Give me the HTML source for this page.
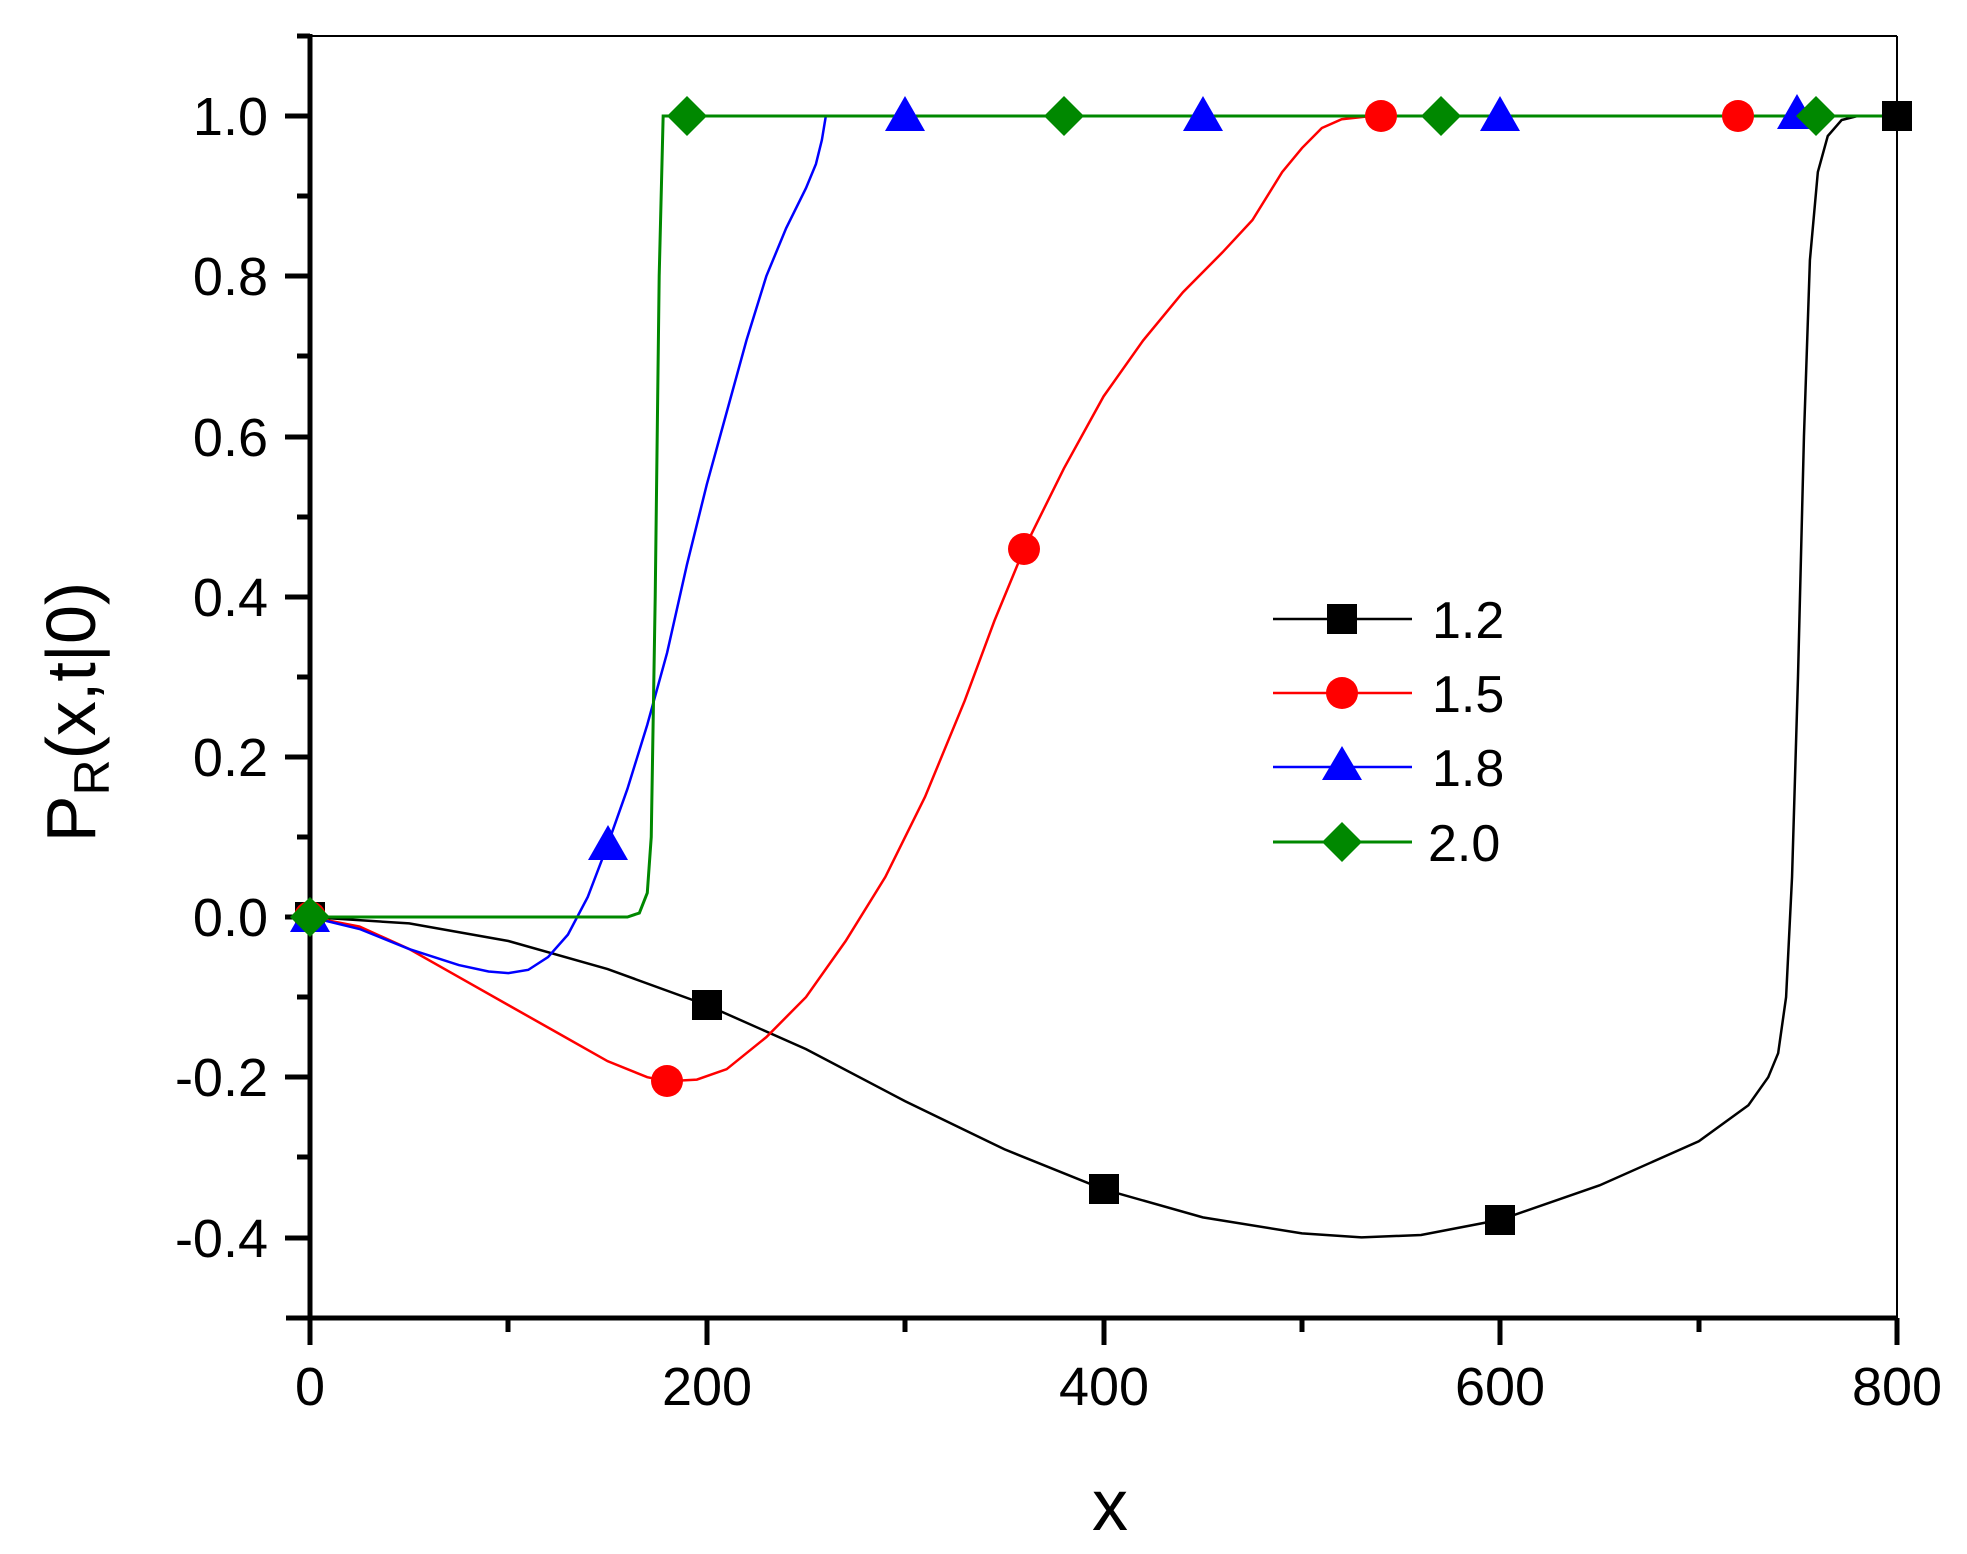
<!DOCTYPE html>
<html><head><meta charset="utf-8"><style>
html,body{margin:0;padding:0;background:#fff;}
svg{display:block;}
text{font-family:"Liberation Sans",sans-serif;}
</style></head><body>
<svg width="1967" height="1554" viewBox="0 0 1967 1554" xmlns="http://www.w3.org/2000/svg">
<rect width="1967" height="1554" fill="#fff"/>
<!-- frame -->
<line x1="310" y1="36" x2="1897" y2="36" stroke="#000" stroke-width="2"/>
<line x1="1897" y1="36" x2="1897" y2="1318" stroke="#000" stroke-width="2"/>
<line x1="310" y1="34" x2="310" y2="1345" stroke="#000" stroke-width="5"/>
<line x1="286" y1="1318" x2="1897" y2="1318" stroke="#000" stroke-width="5"/>
<!-- y ticks -->
<g stroke="#000" stroke-width="5">
<line x1="285" y1="116" x2="310" y2="116"/><line x1="285" y1="276" x2="310" y2="276"/>
<line x1="285" y1="437" x2="310" y2="437"/><line x1="285" y1="597" x2="310" y2="597"/>
<line x1="285" y1="757" x2="310" y2="757"/><line x1="285" y1="917" x2="310" y2="917"/>
<line x1="285" y1="1077" x2="310" y2="1077"/><line x1="285" y1="1238" x2="310" y2="1238"/>
<line x1="297" y1="36" x2="310" y2="36"/><line x1="297" y1="196" x2="310" y2="196"/>
<line x1="297" y1="356" x2="310" y2="356"/><line x1="297" y1="517" x2="310" y2="517"/>
<line x1="297" y1="677" x2="310" y2="677"/><line x1="297" y1="837" x2="310" y2="837"/>
<line x1="297" y1="997" x2="310" y2="997"/><line x1="297" y1="1157" x2="310" y2="1157"/>
<!-- x ticks -->
<line x1="707" y1="1318" x2="707" y2="1345"/><line x1="1104" y1="1318" x2="1104" y2="1345"/>
<line x1="1500" y1="1318" x2="1500" y2="1345"/><line x1="1897" y1="1318" x2="1897" y2="1345"/>
<line x1="508" y1="1318" x2="508" y2="1332"/><line x1="905" y1="1318" x2="905" y2="1332"/>
<line x1="1302" y1="1318" x2="1302" y2="1332"/><line x1="1699" y1="1318" x2="1699" y2="1332"/>
</g>
<g font-size="54" text-anchor="end" fill="#000">
<text x="268" y="135">1.0</text><text x="268" y="295">0.8</text><text x="268" y="456">0.6</text>
<text x="268" y="616">0.4</text><text x="268" y="776">0.2</text><text x="268" y="936">0.0</text>
<text x="268" y="1096">-0.2</text><text x="268" y="1257">-0.4</text>
</g>
<g font-size="54" text-anchor="middle" fill="#000">
<text x="310" y="1405">0</text><text x="707" y="1405">200</text><text x="1104" y="1405">400</text>
<text x="1500" y="1405">600</text><text x="1897" y="1405">800</text>
</g>
<text x="1110" y="1530" font-size="72" text-anchor="middle">x</text>
<text transform="translate(95,712) rotate(-90)" font-size="70" text-anchor="middle">P<tspan font-size="50" dy="14">R</tspan><tspan dy="-14">(x,t|0)</tspan></text>
<!-- curves -->
<g transform="translate(310,917) scale(1.984,-801)" fill="none">
<polyline vector-effect="non-scaling-stroke" stroke="#000" stroke-width="2.5" points="0,0 50,-0.008 100,-0.03 150,-0.065 200,-0.11 250,-0.165 300,-0.23 350,-0.29 400,-0.34 450,-0.375 500,-0.395 530,-0.4 560,-0.397 600,-0.378 650,-0.335 700,-0.28 725,-0.235 735,-0.2 740,-0.17 744,-0.1 747,0.05 750,0.3 753,0.6 756,0.82 760,0.93 765,0.975 772,0.995 780,1 800,1"/>
<polyline vector-effect="non-scaling-stroke" stroke="#f00" stroke-width="2.5" points="0,0 25,-0.012 50,-0.04 75,-0.075 100,-0.11 125,-0.145 150,-0.18 170,-0.2 180,-0.205 195,-0.203 210,-0.19 230,-0.15 250,-0.1 270,-0.03 290,0.05 310,0.15 330,0.27 345,0.37 360,0.46 380,0.56 400,0.65 420,0.72 440,0.78 460,0.83 475,0.87 490,0.93 500,0.96 510,0.985 520,0.996 535,1 800,1"/>
<polyline vector-effect="non-scaling-stroke" stroke="#00f" stroke-width="2.5" points="0,0 25,-0.015 50,-0.04 75,-0.06 90,-0.068 100,-0.07 110,-0.066 120,-0.05 130,-0.022 140,0.025 150,0.09 160,0.16 170,0.24 180,0.33 190,0.44 200,0.54 210,0.63 220,0.72 230,0.8 240,0.86 250,0.91 255,0.94 258,0.97 260,1 800,1"/>
<polyline vector-effect="non-scaling-stroke" stroke="#080" stroke-width="3" points="0,0 160,0 166,0.005 170,0.03 172,0.1 174,0.4 176,0.8 178,1 800,1"/>
</g>
<!-- markers -->
<g fill="#000">
<rect x="295" y="902" width="30" height="30"/><rect x="692" y="990" width="30" height="30"/>
<rect x="1089" y="1174" width="30" height="30"/><rect x="1485" y="1205" width="30" height="30"/>
<rect x="1882" y="101" width="30" height="30"/>
</g>
<g fill="#f00">
<circle cx="310" cy="917" r="16"/><circle cx="667" cy="1081" r="16"/><circle cx="1024" cy="549" r="16"/>
<circle cx="1381" cy="116" r="16"/><circle cx="1738" cy="116" r="16"/>
</g>
<g fill="#00f">
<polygon points="310,897 290,932 330,932"/><polygon points="608,825 588,860 628,860"/>
<polygon points="905,96 885,131 925,131"/><polygon points="1203,96 1183,131 1223,131"/>
<polygon points="1500,96 1480,131 1520,131"/><polygon points="1797,94 1777,129 1817,129"/>
</g>
<g fill="#080">
<polygon points="310,897 330,917 310,937 290,917"/><polygon points="687,96 707,116 687,136 667,116"/>
<polygon points="1064,96 1084,116 1064,136 1044,116"/><polygon points="1441,96 1461,116 1441,136 1421,116"/>
<polygon points="1816,96 1836,116 1816,136 1796,116"/>
</g>
<!-- legend -->
<line x1="1273" y1="619" x2="1412" y2="619" stroke="#000" stroke-width="2.5"/>
<rect x="1327" y="604" width="30" height="30" fill="#000"/>
<line x1="1273" y1="693" x2="1412" y2="693" stroke="#f00" stroke-width="2.5"/>
<circle cx="1342" cy="693" r="16" fill="#f00"/>
<line x1="1273" y1="767" x2="1412" y2="767" stroke="#00f" stroke-width="2.5"/>
<polygon points="1342,746 1322,780 1362,780" fill="#00f"/>
<line x1="1273" y1="842" x2="1412" y2="842" stroke="#080" stroke-width="3"/>
<polygon points="1342,822 1362,842 1342,862 1322,842" fill="#080"/>
<g font-size="52" fill="#000">
<text x="1432" y="638">1.2</text><text x="1432" y="712">1.5</text>
<text x="1432" y="786">1.8</text><text x="1428" y="861">2.0</text>
</g>
</svg>
</body></html>
